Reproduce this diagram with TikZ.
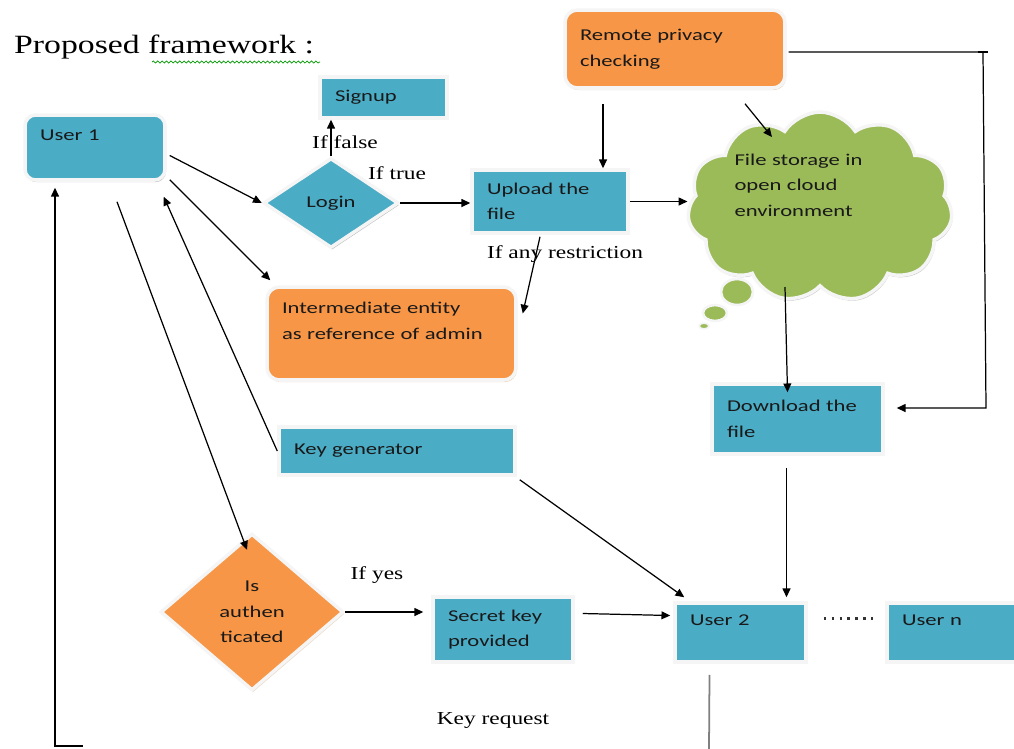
\documentclass[tikz,border=0pt]{standalone}
\usepackage{fontspec}
\setmainfont{Liberation Serif}[FakeStretch=1.28]
\newfontfamily\boxfont{Carlito}[FakeStretch=1.37]
\usetikzlibrary{shapes.geometric,shapes.symbols,shadows,arrows.meta,decorations.pathmorphing}

\definecolor{boxblue}{HTML}{4BACC6}
\definecolor{boxorange}{HTML}{F79646}
\definecolor{cloudgreen}{HTML}{9BBB59}

\tikzset{
  shapebase/.style={draw=gray!8, line width=2pt, text=black!90,
    font=\boxfont\fontsize{9.4}{14.5}\selectfont, inner xsep=0.3cm, inner ysep=2pt},
  bluebox/.style={shapebase, rectangle, fill=boxblue, align=left,
    drop shadow={shadow xshift=0.6pt, shadow yshift=-1.2pt, fill=black!50}},
  orangebox/.style={shapebase, rectangle, rounded corners=7pt, fill=boxorange, align=left,
    drop shadow={shadow xshift=0.6pt, shadow yshift=-1.2pt, fill=brown!70}},
  decision/.style={shapebase, diamond, inner sep=0pt, align=center},
  cond/.style={font=\fontsize{10.4}{12}\selectfont},
  flow/.style={-{Triangle[length=5pt,width=4.5pt]}, line width=0.7pt},
}

\begin{document}
\begin{tikzpicture}[x=0.02cm, y=-0.02cm]
\useasboundingbox (0,0) rectangle (1014,748);

\node[anchor=west, font=\fontsize{15}{18}\selectfont] (title) at (8,47) {Proposed framework :};
\draw[green!60!black, line width=0.4pt, decorate, decoration={snake, amplitude=0.6pt, segment length=2.5pt}] (152,62) -- (320,62);

% boxes
\node[bluebox, rounded corners=6pt, text width=2.2cm, minimum height=1.3cm] (user1) at (95,147.5) {User 1\\\mbox{}};
\node[bluebox, text width=1.94cm, minimum height=0.82cm] (signup) at (383.5,97.5) {Signup};
\node[decision, fill=boxblue, minimum width=2.7cm, minimum height=1.8cm,
  drop shadow={shadow xshift=0.6pt, shadow yshift=-1.2pt, fill=black!50}] (login) at (331,203) {Login};
\node[bluebox, text width=2.52cm, minimum height=1.26cm] (upload) at (550,201.5) {Upload the\\file};
\node[orangebox, text width=3.8cm, minimum height=1.56cm] (remote) at (675,49) {Remote privacy\\checking};
\node[orangebox, text width=4.38cm, minimum height=1.86cm] (inter) at (391.5,333.5) {Intermediate entity\\as reference of admin\\\mbox{}};
\node[bluebox, text width=4.12cm, minimum height=0.96cm] (keygen) at (397,451) {Key generator};
\node[bluebox, text width=2.82cm, minimum height=1.4cm] (download) at (797.5,419) {Download the\\file};
\node[decision, fill=boxorange, minimum width=3.66cm, minimum height=3.14cm,
  drop shadow={shadow xshift=0.6pt, shadow yshift=-1.2pt, fill=brown!70}] (auth) at (252,612) {Is\\authen\\ticated};
\node[bluebox, text width=2.2cm, minimum height=1.3cm] (secret) at (503,629.5) {Secret key\\provided};
\node[bluebox, text width=2.02cm, minimum height=1.18cm] (user2) at (740.5,632.5) {User 2\\\mbox{}};
\node[bluebox, text width=2.26cm, minimum height=1.18cm] (usern) at (958.5,632.5) {User n\\\mbox{}};

% cloud
\node[cloud, cloud puffs=11, cloud puff arc=115, aspect=1.4, fill=cloudgreen, draw=gray!8, line width=2pt,
  minimum width=5.3cm, minimum height=3.8cm,
  drop shadow={shadow xshift=0.6pt, shadow yshift=-1.2pt, fill=black!40}] (cloud) at (820,207) {};
\fill[cloudgreen, draw=gray!8, line width=1.5pt] (737,292) ellipse [x radius=16, y radius=13];
\fill[cloudgreen, draw=gray!8, line width=1.5pt] (715,313) ellipse [x radius=12, y radius=8];
\fill[cloudgreen, draw=gray!8, line width=1pt] (704,326) ellipse [x radius=5, y radius=3];
\node[font=\boxfont\fontsize{9.4}{14.5}\selectfont, text=black!90, text width=2.9cm, align=left] (cloudtxt) at (807,185) {File storage in\\open cloud\\environment};

% labels
\node[cond] (iffalse) at (345,142) {If false};
\node[cond] (iftrue) at (397,173) {If true};
\node[cond] (ifrestrict) at (565,254) {If any restriction};
\node[cond] (ifyes) at (377,575) {If yes};
\node[cond] (keyreq) at (493,720) {Key request};

\coordinate (rc) at (983,52);
\coordinate (rd) at (986,408);
\coordinate (kr) at (709,750);
\coordinate (kl) at (55,746);
\coordinate (kb) at (83,746);

% connectors
\draw[flow] (login.north) -- (login.north |- signup.south);
\draw[flow] (login.east) -- (login.east -| upload.west);
\draw[flow] ([shift={(3,8)}]user1.east) -- (login.west);
\draw[flow] ([shift={(3,-2)}]user1.south east) -- ([shift={(5,-5)}]inter.north west);
\draw[flow] (keygen.west) -- ([shift={(-3,15)}]user1.south east);
\draw[flow] ([shift={(22,20)}]user1.south) -- ([shift={(-5,18)}]auth.north);
\draw[flow] ([shift={(-10,2)}]upload.south) -- ([shift={(5,-20)}]inter.east);
\draw[flow] ([shift={(-72,14)}]remote.south) -- ([shift={(53,0)}]upload.north);
\draw[flow] ([shift={(70,14)}]remote.south) -- ([shift={(-48,-70)}]cloud.center);
\draw[flow] (upload.east) -- (upload.east -| cloud.west);
\draw[flow] ([shift={(-35,80)}]cloud.center) -- ([shift={(-10,10)}]download.north);
\draw[flow] ([shift={(-11,12)}]download.south) -- ([shift={(46,-4)}]user2.north);
\draw[flow] ([shift={(3,3)}]keygen.south east) -- ([shift={(11,-4)}]user2.north west);
\draw[flow, shorten >=0.16cm] (auth.east) -- (auth.east -| secret.west);
\draw[flow] ([shift={(8,-16)}]secret.east) -- ([shift={(-3,-17)}]user2.west);
\draw[black!80, line width=1.3pt, dash pattern=on 1.3pt off 3.2pt] ([shift={(16,-14)}]user2.east) -- ([shift={(-9,-14)}]usern.west);
\draw[flow] ([shift={(2,3)}]remote.east) -- (rc) -- (rd) -- ([shift={(12,-11)}]download.east);
\draw[line width=0.7pt] ([shift={(-5,0)}]rc) -- ([shift={(5,0)}]rc);
\draw[gray, line width=1pt] ([shift={(-31,11)}]user2.south) -- (kr);
\draw[flow] (kb) -- (kl) -- ([shift={(-40,6)}]user1.south);
\end{tikzpicture}
\end{document}
